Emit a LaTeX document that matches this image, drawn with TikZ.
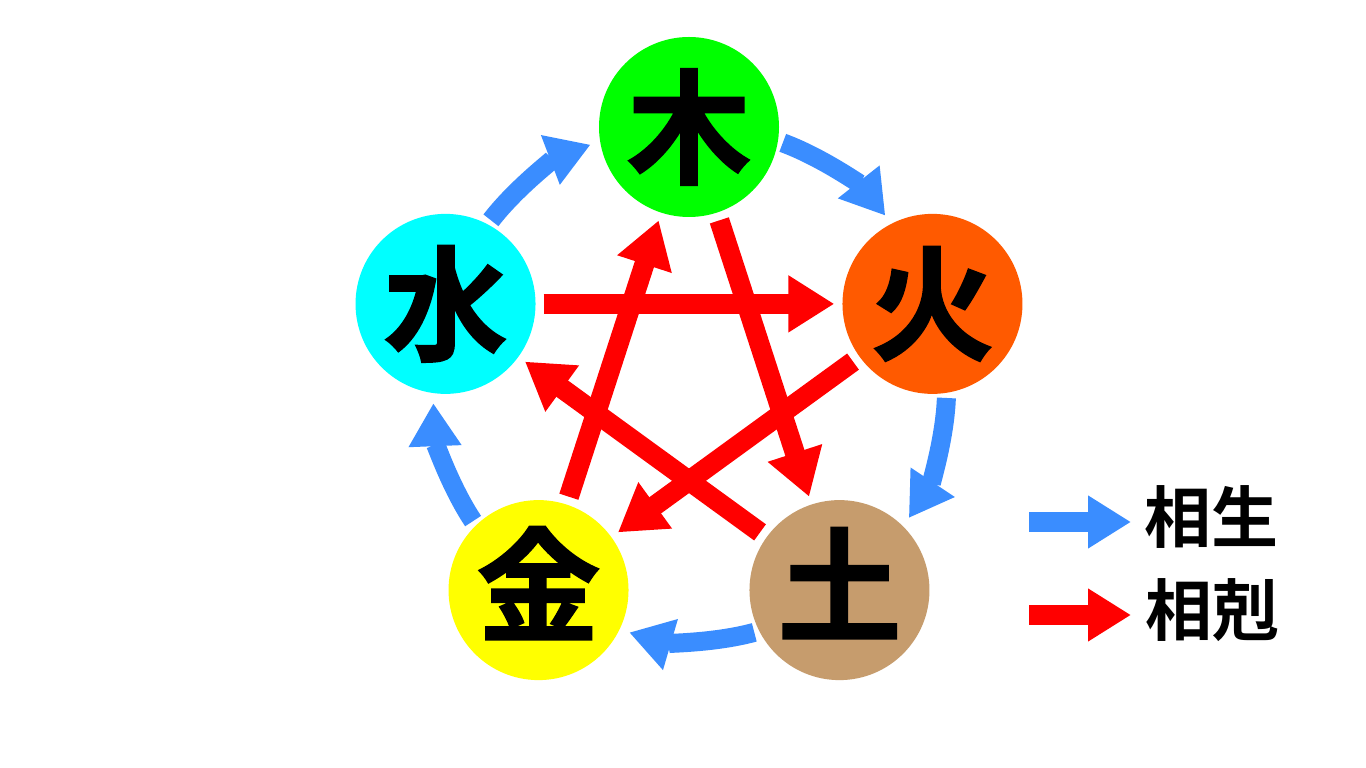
\documentclass[tikz,border=0pt]{standalone}
\usepackage{fontspec}
\newfontfamily\cjkheavy{Noto Sans CJK JP Bold}[FakeBold=1.5]
\newfontfamily\cjkleg{Noto Sans CJK JP Bold}
\usetikzlibrary{arrows.meta}
\definecolor{cwood}{HTML}{00FF00}
\definecolor{cfire}{HTML}{FF5A00}
\definecolor{cearth}{HTML}{C69C6D}
\definecolor{cmetal}{HTML}{FFFF00}
\definecolor{cwater}{HTML}{00FFFF}
\definecolor{cblue}{HTML}{3A8DFF}
\definecolor{cred}{HTML}{FF0000}
\begin{document}
\begin{tikzpicture}[x=1pt,y=1pt,
  elem/.style={circle, minimum size=180pt, inner sep=0pt, text=black,
    font=\cjkheavy\fontsize{124}{124}\selectfont},
  sheng/.style={draw=cblue, line width=19pt, -{Triangle[length=43pt,width=50pt]},
    shorten <=5pt, shorten >=10pt},
  ke/.style={draw=cred, line width=20pt, -{Triangle[length=46pt,width=54pt]},
    shorten <=8pt, shorten >=8pt},
  legsheng/.style={draw=cblue, line width=20pt, -{Triangle[length=43pt,width=50pt]}},
  legke/.style={draw=cred, line width=20pt, -{Triangle[length=43pt,width=50pt]}},
  legtext/.style={font=\cjkleg\fontsize{67}{67}\selectfont, inner sep=0pt, text=black}]
\useasboundingbox (0,0) rectangle (1366,768);
\fill[white] (0,0) rectangle (1366,768);
\coordinate (O) at (689,385);
\node[elem, fill=cwood]  (mu)   at ([shift={(90:256)}]O)   {木};
\node[elem, fill=cfire]  (huo)  at ([shift={(18:256)}]O)   {火};
\node[elem, fill=cearth] (tu)   at ([shift={(-54:256)}]O)  {};
\node[elem, fill=cmetal] (jin)  at ([shift={(-126:256)}]O) {};
\node[elem, fill=cwater] (shui) at ([shift={(162:256)}]O)  {水};
\node[elem, anchor=center] (tut) at ([yshift=7pt]tu.center) {土};
\node[elem, anchor=center] (jint) at ([yshift=7pt]jin.center) {金};
% sheng cycle
\draw[sheng] (mu.-9.4) to[bend left=15.75, looseness=0.87] (huo.117.4);
\draw[sheng] (huo.-81.4) to[bend left=15.75, looseness=0.87] (tu.45.4);
\draw[sheng] (tu.-153.4) to[bend left=15.75, looseness=0.87] (jin.-26.6);
\draw[sheng] (jin.134.6) to[bend left=15.75, looseness=0.87] (shui.-98.6);
\draw[sheng] (shui.62.6) to[bend left=15.75, looseness=0.87] (mu.189.4);
% ke cycle
\draw[ke] (shui) -- (huo);
\draw[ke] (huo) -- (jin);
\draw[ke] (jin) -- (mu);
\draw[ke] (mu) -- (tu);
\draw[ke] (tu) -- (shui);
% legend
\coordinate (ls1) at (1029,246);
\coordinate (le1) at (1131,246);
\coordinate (ls2) at (1029,153);
\coordinate (le2) at (1131,153);
\draw[legsheng] (ls1) -- (le1);
\draw[legke] (ls2) -- (le2);
\node[legtext] (t1) at (1211,251) {相生};
\node[legtext] (t2) at (1212,158) {相剋};
\end{tikzpicture}
\end{document}
